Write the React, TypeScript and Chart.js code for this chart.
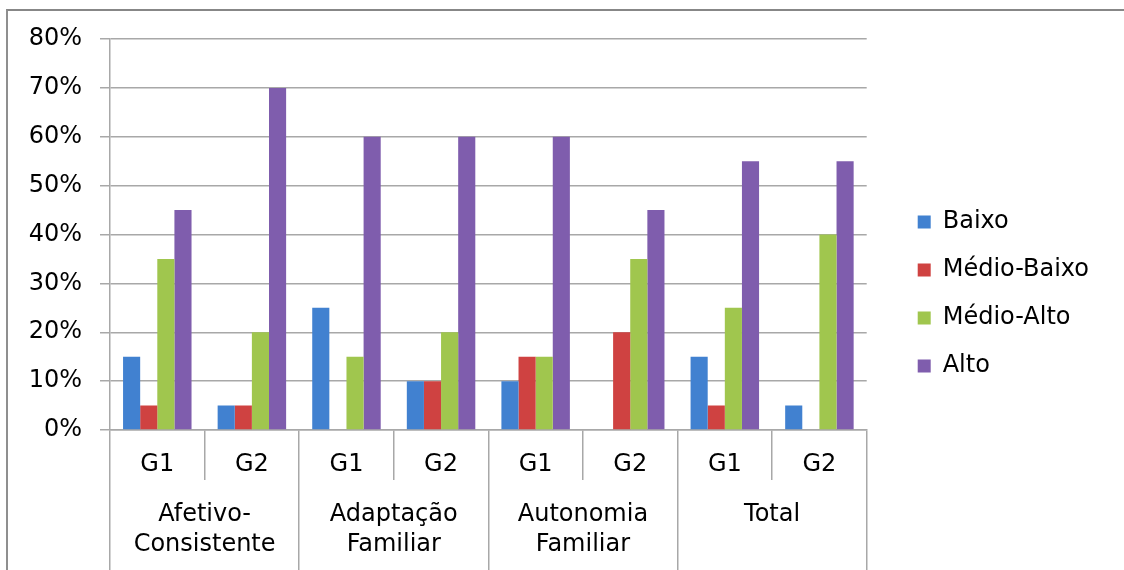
import React, { useEffect, useRef } from 'react';
import { Chart, registerables } from 'chart.js';

Chart.register(...registerables);

// ---- data ----
const subLabels = ['G1', 'G2', 'G1', 'G2', 'G1', 'G2', 'G1', 'G2'];
const groupLabels = [['Afetivo-', 'Consistente'], ['Adaptação', 'Familiar'], ['Autonomia', 'Familiar'], ['Total']];
const seriesNames = ['Baixo', 'Médio-Baixo', 'Médio-Alto', 'Alto'];
const baixo = [15, 5, 25, 10, 10, 0, 15, 5];
const medioBaixo = [5, 5, 0, 10, 15, 20, 5, 0];
const medioAlto = [35, 20, 15, 20, 15, 35, 25, 40];
const alto = [45, 70, 60, 60, 60, 45, 55, 55];
const yMin = 0;
const yMax = 80;
const yStep = 10;

const seriesColors = ['#4181D0', '#CF4241', '#A0C64E', '#7F5DAD'];
const FONT = 'DejaVu Sans';
const gridColor = '#a8a8a8';

export default function App() {
  const ref = useRef<HTMLCanvasElement>(null);

  useEffect(() => {
    const values = [baixo, medioBaixo, medioAlto, alto];
    const chart = new Chart(ref.current as HTMLCanvasElement, {
      type: 'bar',
      data: {
        labels: subLabels,
        datasets: seriesNames.map((name, i) => ({
          label: name,
          data: values[i],
          backgroundColor: seriesColors[i],
          borderWidth: 0,
          categoryPercentage: 0.724,
          barPercentage: 1,
        })),
      },
      options: {
        animation: false,
        responsive: false,
        layout: { padding: { top: 18, right: 25, bottom: 0, left: 0 } },
        plugins: {
          legend: {
            position: 'right',
            align: 'center',
            maxWidth: 320,
            labels: {
              boxWidth: 13,
              boxHeight: 13,
              padding: 24,
              color: '#000',
              font: { family: FONT, size: 24 },
            },
          },
          tooltip: { enabled: false },
        },
        scales: {
          x: {
            type: 'category',
            position: 'bottom',
            offset: true,
            grid: {
              offset: true,
              drawOnChartArea: false,
              drawTicks: true,
              tickLength: 50,
              color: gridColor,
              lineWidth: 1.5,
            },
            border: { display: true, color: gridColor, width: 1.5 },
            ticks: {
              padding: -30,
              color: '#000',
              font: { family: FONT, size: 24 },
              autoSkip: false,
              maxRotation: 0,
            },
            afterFit: (s: any) => {
              s.height = 50;
            },
          },
          x2: {
            type: 'category',
            position: 'bottom',
            labels: groupLabels as any,
            offset: true,
            grid: {
              offset: true,
              drawOnChartArea: false,
              drawTicks: true,
              tickLength: 90,
              color: gridColor,
              lineWidth: 1.5,
            },
            border: { display: false },
            ticks: {
              padding: -70,
              color: '#000',
              font: { family: FONT, size: 24, lineHeight: 1.25 },
              autoSkip: false,
              maxRotation: 0,
            },
            afterFit: (s: any) => {
              s.height = 90;
            },
          },
          xTop: {
            type: 'linear',
            position: 'top',
            display: true,
            grid: { display: false },
            border: { display: false },
            ticks: { display: false },
            afterFit: (s: any) => {
              s.height = 21;
            },
          },
          y: {
            type: 'linear',
            position: 'left',
            min: yMin,
            max: yMax,
            ticks: {
              stepSize: yStep,
              padding: 18,
              color: '#000',
              font: { family: FONT, size: 24 },
              callback: (v: any) => `${v}%`,
            },
            grid: { color: gridColor, lineWidth: 1.5, tickLength: 10 },
            border: { display: true, color: gridColor, width: 1.5 },
            afterFit: (s: any) => {
              s.width = 110;
            },
          },
          yRight: {
            type: 'linear',
            position: 'right',
            display: true,
            grid: { display: false },
            border: { display: false },
            ticks: { display: false },
            afterFit: (s: any) => {
              s.width = 27;
            },
          },
        },
      } as any,
    });
    return () => chart.destroy();
  }, []);

  return (
    <div
      style={{
        position: 'fixed',
        left: 0,
        top: 0,
        width: 1124,
        height: 570,
        overflow: 'hidden',
        background: '#fff',
      }}
    >
      <div
        style={{
          position: 'absolute',
          left: 6,
          top: 9,
          width: 1300,
          height: 800,
          borderTop: '2px solid #878787',
          borderLeft: '2px solid #8f8f8f',
        }}
      />
      <canvas
        ref={ref}
        width={1124}
        height={570}
        style={{ position: 'absolute', left: 0, top: 0, width: 1124, height: 570 }}
      />
    </div>
  );
}
